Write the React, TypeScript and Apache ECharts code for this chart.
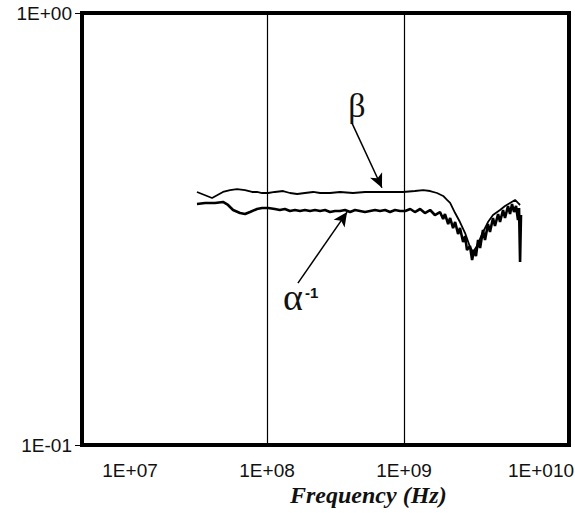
import React, { useEffect, useRef } from "react";
import * as echarts from "echarts";

// beta curve (frequency in Hz, value)
const betaFreq = [3.08e7, 3.97e7, 4.77e7, 5.37e7, 6.04e7, 6.91e7, 7.77e7, 8.45e7, 9.19e7, 1.02e8, 1.14e8, 1.31e8, 1.47e8, 1.66e8, 1.89e8, 2.17e8, 2.44e8, 2.88e8, 3.41e8, 4.24e8, 5.19e8, 6.35e8, 7.9e8, 9.83e8, 1.2e9, 1.38e9, 1.55e9, 1.74e9, 1.93e9, 2.06e9, 2.17e9, 2.36e9, 2.56e9, 2.79e9, 3.03e9, 3.19e9, 3.41e9, 3.71e9, 4.1e9, 4.46e9, 5.02e9, 5.46e9, 5.94e9, 6.46e9, 6.79e9, 7.03e9];
const betaVal = [0.3852, 0.3731, 0.3852, 0.3892, 0.3913, 0.3892, 0.3852, 0.3852, 0.3831, 0.3831, 0.3852, 0.3872, 0.3831, 0.3811, 0.3831, 0.3852, 0.3831, 0.3831, 0.3852, 0.3831, 0.3852, 0.3852, 0.3852, 0.3852, 0.3872, 0.3892, 0.3872, 0.3831, 0.3771, 0.3692, 0.3633, 0.3443, 0.3282, 0.3095, 0.2873, 0.2797, 0.2888, 0.3079, 0.3282, 0.3407, 0.3499, 0.3575, 0.3633, 0.3692, 0.3633, 0.3594];

// alpha^-1 curve (frequency in Hz, value)
const alphaFreq = [3.08e7, 3.53e7, 4.17e7, 4.77e7, 5.19e7, 5.65e7, 6.35e7, 6.91e7, 7.51e7, 8.45e7, 9.19e7, 1.02e8, 1.14e8, 1.24e8, 1.35e8, 1.47e8, 1.6e8, 1.74e8, 1.89e8, 2.06e8, 2.24e8, 2.44e8, 2.65e8, 2.88e8, 3.14e8, 3.41e8, 3.71e8, 4.04e8, 4.39e8, 4.77e8, 5.19e8, 5.65e8, 6.14e8, 6.68e8, 7.27e8, 7.9e8, 8.6e8, 9.35e8, 1.02e9, 1.11e9, 1.2e9, 1.31e9, 1.42e9, 1.55e9, 1.68e9, 1.83e9, 1.93e9, 1.99e9, 2.1e9, 2.17e9, 2.28e9, 2.36e9, 2.48e9, 2.56e9, 2.7e9, 2.79e9, 2.88e9, 3.03e9, 3.14e9, 3.24e9, 3.35e9, 3.47e9, 3.59e9, 3.77e9, 3.9e9, 4.1e9, 4.24e9, 4.46e9, 4.61e9, 4.86e9, 5.02e9, 5.28e9, 5.46e9, 5.74e9, 5.94e9, 6.14e9, 6.35e9, 6.57e9, 6.79e9, 6.91e9, 7.03e9, 7.14e9];
const alphaVal = [0.3614, 0.3633, 0.3633, 0.3652, 0.3594, 0.3499, 0.3443, 0.3425, 0.3462, 0.3518, 0.3537, 0.3537, 0.3518, 0.3499, 0.3518, 0.3481, 0.3499, 0.3481, 0.3499, 0.3481, 0.3499, 0.3481, 0.3499, 0.3462, 0.3481, 0.3481, 0.3499, 0.3462, 0.3499, 0.3481, 0.3462, 0.3481, 0.3499, 0.3481, 0.3499, 0.3462, 0.3499, 0.3481, 0.3481, 0.3518, 0.3462, 0.3518, 0.3443, 0.3499, 0.3407, 0.3462, 0.3336, 0.3425, 0.3248, 0.3353, 0.3179, 0.3282, 0.3079, 0.3179, 0.295, 0.3046, 0.2827, 0.2888, 0.268, 0.2827, 0.2738, 0.2982, 0.2858, 0.3145, 0.2982, 0.3248, 0.3112, 0.3353, 0.3213, 0.3425, 0.3282, 0.3499, 0.3353, 0.3575, 0.3425, 0.3614, 0.3462, 0.3575, 0.3318, 0.3537, 0.2652, 0.3407];

// axis ticks and reference lines
const xTicks = [1e7, 1e8, 1e9, 1e10];
const xTickLabels = ["1E+07", "1E+08", "1E+09", "1E+010"];
const yTicks = [0.1, 1];
const yTickLabels = ["1E-01", "1E+00"];
const gridFreqs = [1e8, 1e9];

// annotation arrows: [from, to] in (Hz, value)
const betaArrow = [[4.17e8, 0.556], [6.9e8, 0.394]];
const alphaArrow = [[1.68e8, 0.237], [3.84e8, 0.346]];

const labelFor = (v: number, ticks: number[], labels: string[]) => {
  for (let i = 0; i < ticks.length; i++) {
    if (Math.abs(Math.log10(v) - Math.log10(ticks[i])) < 1e-6) return labels[i];
  }
  return "";
};

export default function App() {
  const ref = useRef<HTMLDivElement>(null);
  useEffect(() => {
    document.body.style.margin = "0";
    const chart = echarts.init(ref.current!, null, { renderer: "svg" });
    const axisFont = { fontFamily: "Liberation Sans, Arial, sans-serif", fontSize: 19, color: "#111" };
    const arrowLine = (pts: number[][]) => [
      { coord: pts[0], symbol: "none" },
      { coord: pts[1], symbol: "arrow", symbolSize: [10, 14] },
    ];
    chart.setOption({
      animation: false,
      backgroundColor: "#fff",
      grid: {
        left: 82,
        right: 6,
        top: 13,
        bottom: 68,
        show: true,
        borderColor: "#000",
        borderWidth: 4,
        outerBoundsMode: "none",
      },
      xAxis: {
        type: "log",
        logBase: 10,
        min: 4.46e6,
        max: 1.6e10,
        axisLine: { show: false },
        axisTick: { show: false },
        splitLine: { show: false },
        minorTick: { show: false },
        axisLabel: {
          ...axisFont,
          margin: 16,
          showMinLabel: false,
          showMaxLabel: false,
          formatter: (v: number) => labelFor(v, xTicks, xTickLabels),
        },
      },
      yAxis: {
        type: "log",
        logBase: 10,
        min: 0.1,
        max: 1,
        axisLine: { show: false },
        axisTick: { show: true, length: 7, lineStyle: { color: "#000", width: 1 } },
        splitLine: { show: false },
        axisLabel: {
          ...axisFont,
          margin: 10,
          formatter: (v: number) => labelFor(v, yTicks, yTickLabels),
        },
      },
      series: [
        {
          name: "beta",
          type: "line",
          symbol: "none",
          data: betaFreq.map((f, i) => [f, betaVal[i]]),
          lineStyle: { color: "#000", width: 1.8 },
          markLine: {
            silent: true,
            symbol: "none",
            label: { show: false },
            lineStyle: { color: "#000", width: 1.2, type: "solid" },
            data: gridFreqs.map((f) => ({ xAxis: f })),
          },
        },
        {
          name: "alpha",
          type: "line",
          symbol: "none",
          data: alphaFreq.map((f, i) => [f, alphaVal[i]]),
          lineStyle: { color: "#000", width: 2.6 },
          markLine: {
            silent: true,
            label: { show: false },
            lineStyle: { color: "#000", width: 1.5, type: "solid" },
            data: [arrowLine(betaArrow), arrowLine(alphaArrow)],
          },
        },
      ],
      graphic: [
        {
          type: "text",
          left: 290,
          top: 483,
          style: {
            text: "Frequency (Hz)",
            fontFamily: "Liberation Serif, Times New Roman, serif",
            fontStyle: "italic",
            fontWeight: "bold",
            fontSize: 24,
            fill: "#111",
          },
        },
        {
          type: "text",
          x: 357,
          y: 105,
          style: {
            text: "β",
            fontFamily: "Liberation Serif, Times New Roman, serif",
            fontSize: 34,
            fill: "#111",
            align: "center",
            verticalAlign: "middle",
          },
        },
        {
          type: "text",
          x: 293,
          y: 297,
          style: {
            text: "α",
            fontFamily: "Liberation Serif, Times New Roman, serif",
            fontSize: 38,
            fill: "#111",
            align: "center",
            verticalAlign: "middle",
          },
        },
        {
          type: "text",
          x: 305,
          y: 292,
          style: {
            text: "-1",
            fontFamily: "Liberation Sans, Arial, sans-serif",
            fontWeight: "bold",
            fontSize: 15,
            fill: "#111",
            align: "left",
            verticalAlign: "middle",
          },
        },
      ],
    });
    return () => chart.dispose();
  }, []);
  return <div ref={ref} style={{ width: 575, height: 513 }} />;
}
